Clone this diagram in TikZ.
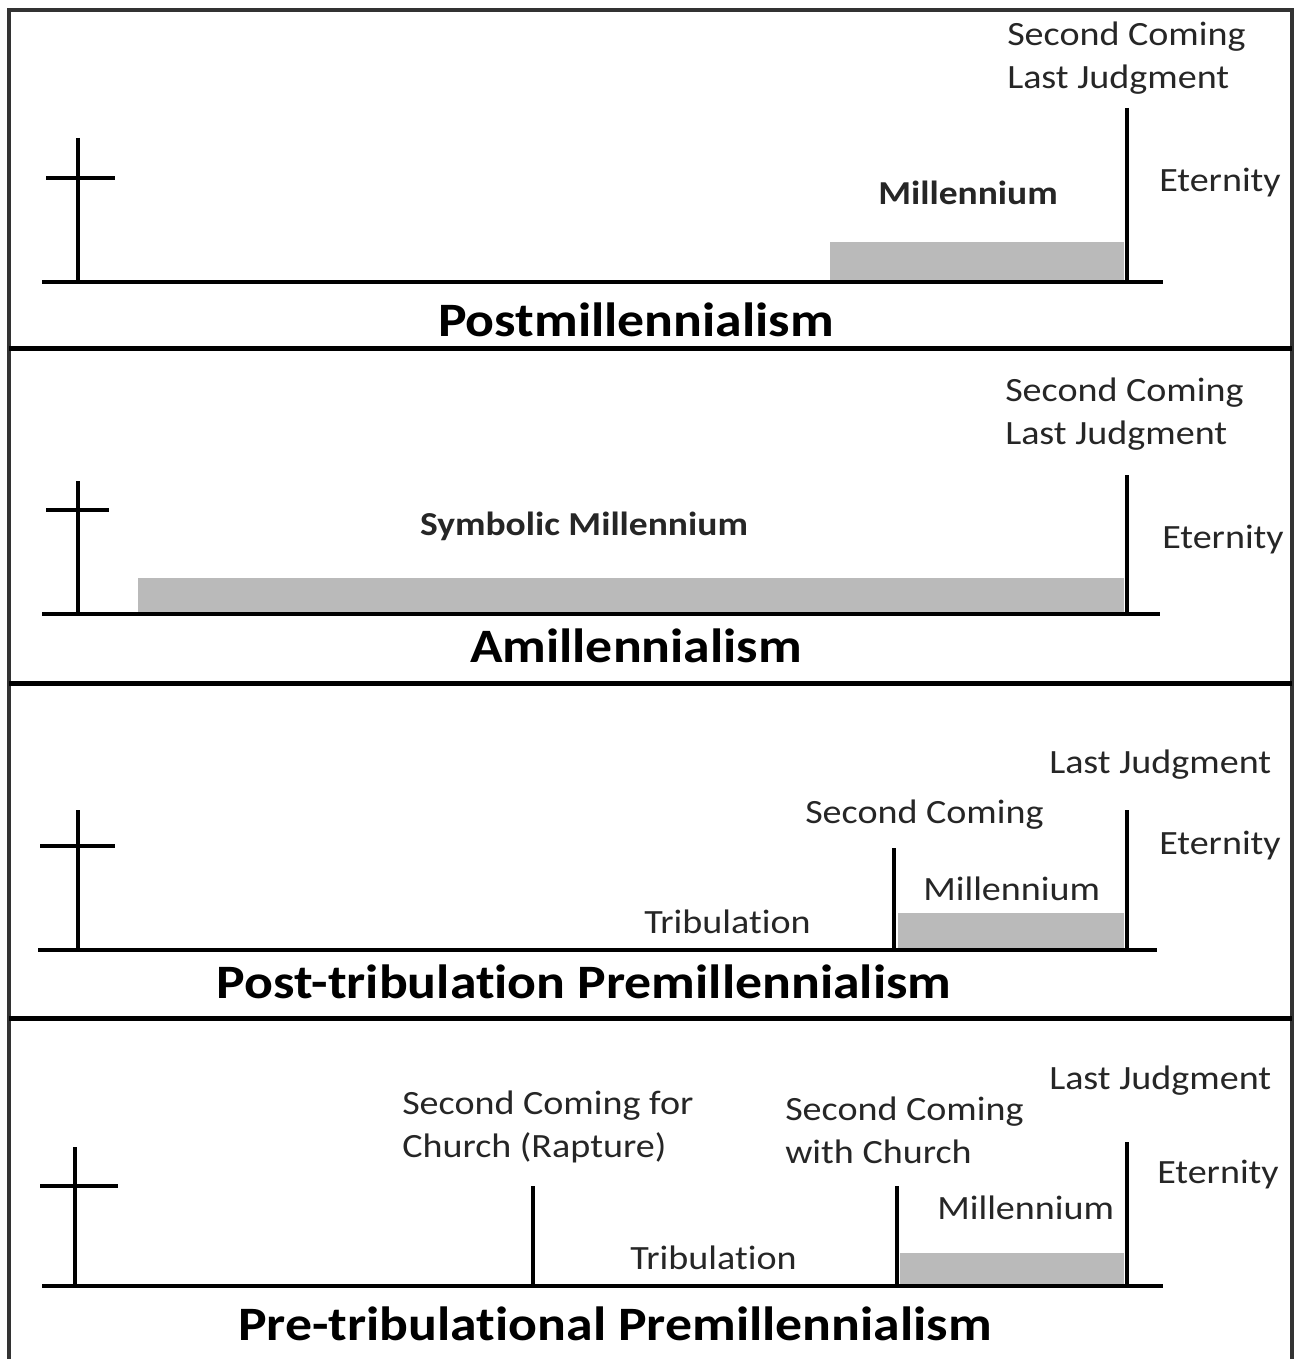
\documentclass[tikz,border=0pt]{standalone}
\usepackage{fontspec}
\setmainfont{Carlito}[FakeStretch=1.12, Ligatures=NoCommon]
\usetikzlibrary{positioning}

\begin{document}
\begin{tikzpicture}[x=1pt,y=-1pt, line width=4.5pt,
  every node/.style = {inner sep=0pt, text=black!85},
  lbl/.style = {font=\fontsize{34}{43}\selectfont, align=left},
  mil/.style = {font=\bfseries\fontsize{33.5}{43}\selectfont},
  title/.style = {font=\bfseries\fontsize{48}{56}\selectfont, text=black},
  band/.style = {fill=black!27, draw=none},
  frame/.style = {line width=3.5pt, draw=black!80}]
  \useasboundingbox (0,0) rectangle (1296,1359);
  % frame and dividers
  \draw[frame] (9,1359) -- (9,10) -- (1292,10) -- (1292,1359);
  \foreach \y in {348,683,1018}
    \draw[line width=5pt] (9,\y) -- (1292,\y);

  % Postmillennialism
  \fill[band] (830,242) rectangle (1124,280);
  \draw (42,282) -- (1163,282);
  \draw (78,138) -- (78,282) (46,178) -- (115,178);
  \draw (1127,108) -- (1127,282);
  \node[lbl, anchor=west] (sc1) at (1005,58) {Second Coming\\Last Judgment};
  \node[lbl, anchor=west] (et1) at (1157,183) {Eternity};
  \node[mil] (mil1) at (968,193) {Millennium};
  \node[title] (post) at (636,320) {Postmillennialism};

  % Amillennialism
  \fill[band] (138,578) rectangle (1124,612);
  \draw (42,614) -- (1160,614);
  \draw (78,481) -- (78,614) (46,510) -- (109,510);
  \draw (1127,475) -- (1127,614);
  \node[lbl, anchor=west] (sc2) at (1003,414) {Second Coming\\Last Judgment};
  \node[lbl, anchor=west] (et2) at (1160,540) {Eternity};
  \node[mil] (sym) at (584,526) {Symbolic Millennium};
  \node[title] (amil) at (636,646) {Amillennialism};

  % Post-tribulation Premillennialism
  \fill[band] (898,913) rectangle (1124,948);
  \draw (38,950) -- (1157,950);
  \draw (78,810) -- (78,950) (40,846) -- (115,846);
  \draw (894,848) -- (894,950);
  \draw (1127,810) -- (1127,950);
  \node[lbl, anchor=west] (lj3) at (1047,765) {Last Judgment};
  \node[lbl, anchor=west] (sc3) at (803,815) {Second Coming};
  \node[lbl, anchor=west] (et3) at (1157,846) {Eternity};
  \node[lbl, anchor=west] (mil3) at (921,889) {Millennium};
  \node[lbl, anchor=west] (tr3) at (642,922) {Tribulation};
  \node[title] (posttrib) at (584,982) {Post-tribulation Premillennialism};

  % Pre-tribulational Premillennialism
  \fill[band] (900,1253) rectangle (1124,1284);
  \draw (42,1286) -- (1163,1286);
  \draw (75,1147) -- (75,1286) (40,1186) -- (118,1186);
  \draw (533,1186) -- (533,1286);
  \draw (897,1186) -- (897,1286);
  \draw (1127,1142) -- (1127,1286);
  \node[lbl, anchor=west] (rap) at (400,1127) {Second Coming for\\Church (Rapture)};
  \node[lbl, anchor=west] (sc4) at (783,1130) {Second Coming\\with Church};
  \node[lbl, anchor=west] (lj4) at (1047,1081) {Last Judgment};
  \node[lbl, anchor=west] (et4) at (1155,1175) {Eternity};
  \node[lbl, anchor=west] (mil4) at (935,1208) {Millennium};
  \node[lbl, anchor=west] (tr4) at (628,1258) {Tribulation};
  \node[title] (pretrib) at (615,1324) {Pre-tribulational Premillennialism};
\end{tikzpicture}
\end{document}
